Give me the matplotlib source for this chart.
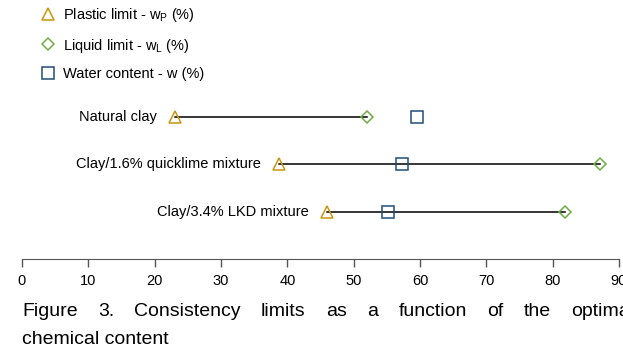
import matplotlib
matplotlib.use('Agg')
import matplotlib.pyplot as plt

# 試料名と各コンシステンシー限界
samples = ['Natural clay', 'Clay/1.6% quicklime mixture', 'Clay/3.4% LKD mixture']
plastic_limit = [23.0, 38.8, 46.0]
liquid_limit = [52.0, 87.2, 81.8]
water_content = [59.5, 57.3, 55.2]
xticks = [0, 10, 20, 30, 40, 50, 60, 70, 80, 90]

# キャプション（1行目は両端揃え）
caption1 = 'Figure 3. Consistency limits as a function of the optimal'
caption2 = 'chemical content'

plt.rcParams['font.family'] = ['Liberation Sans', 'DejaVu Sans']
plt.rcParams['mathtext.fontset'] = 'custom'
plt.rcParams['mathtext.rm'] = 'Liberation Sans'
plt.rcParams['mathtext.it'] = 'Liberation Sans'

W, H = 623, 351
fig = plt.figure(figsize=(W / 100, H / 100), dpi=100)
ax = fig.add_axes([22 / W, (H - 259) / H, 597 / W, 259 / H])

ypos = [3, 2, 1]
c_pl = '#C8960C'
c_ll = '#70AD47'
c_w = '#1F4E79'

# 塑性限界から液性限界までの線
for y, p, l in zip(ypos, plastic_limit, liquid_limit):
    ax.plot([p, l], [y, y], color='black', lw=1.1, zorder=1)

ax.plot(plastic_limit, ypos, ls='none', marker='^', ms=9, mfc='none', mec=c_pl, mew=1.1,
        label=r'Plastic limit - w$_\mathrm{P}$ (%)', zorder=3)
ax.plot(liquid_limit, ypos, ls='none', marker='D', ms=6, mfc='none', mec=c_ll, mew=1.1,
        label=r'Liquid limit - w$_\mathrm{L}$ (%)', zorder=3)
ax.plot(water_content, ypos, ls='none', marker='s', ms=9, mfc='none', mec=c_w, mew=1.1,
        label='Water content - w (%)', zorder=3)

# 試料名ラベル
for y, p, name in zip(ypos, plastic_limit, samples):
    ax.annotate(name, xy=(p, y), xytext=(-13, 0), textcoords='offset points',
                ha='right', va='center', fontsize=10.5)

ax.set_xlim(0, 90)
ax.set_ylim(0, 5.46)
ax.set_xticks(xticks)
ax.set_xticklabels([str(t) for t in xticks], fontsize=10.5)
ax.tick_params(axis='x', direction='out', length=6, width=1, color='#555555', pad=5)
ax.set_yticks([])
for s in ['left', 'right', 'top']:
    ax.spines[s].set_visible(False)
ax.spines['bottom'].set_color('#555555')
ax.set_facecolor('none')

ax.legend(loc='upper left', bbox_to_anchor=(26 / W, 1 + 7 / H), bbox_transform=fig.transFigure,
          frameon=False, handletextpad=0.45, labelspacing=0.85, handlelength=1.2,
          prop={'size': 10.5})

# 両端揃え：単語幅を測って間隔を均等に
words = caption1.split(' ')
texts = [fig.text(0, 1 - 312 / H, w_, fontsize=14, va='center', ha='left') for w_ in words]
renderer = fig.canvas.get_renderer()
widths = [t.get_window_extent(renderer).width for t in texts]
left, right = 22, 634
gap = (right - left - sum(widths)) / (len(words) - 1)
x = left
for t, wd in zip(texts, widths):
    t.set_x(x / W)
    x += wd + gap
fig.text(22 / W, 1 - 339 / H, caption2, fontsize=14, va='center', ha='left')

fig.savefig('out.png', dpi=100)
